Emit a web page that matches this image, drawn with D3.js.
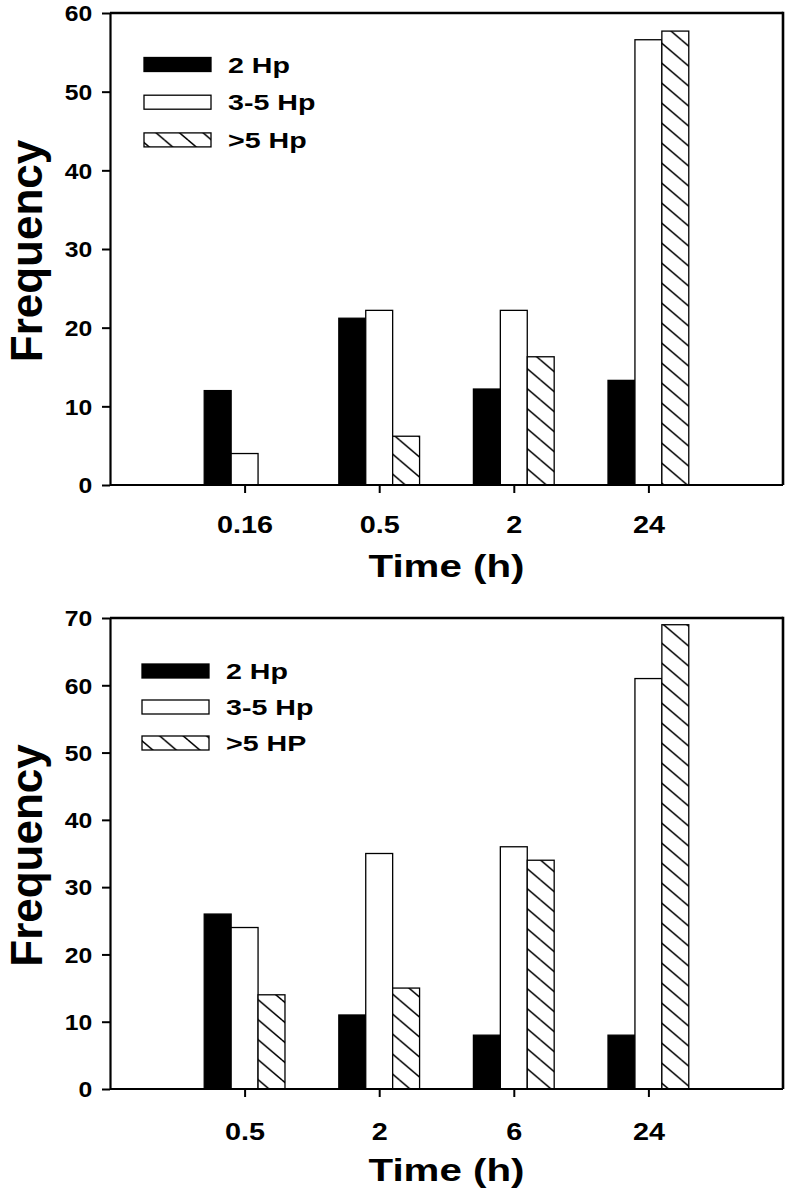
<!DOCTYPE html>
<html><head><meta charset="utf-8">
<script src="https://cdn.jsdelivr.net/npm/d3@7"></script>
<style>body{margin:0;background:#fff}svg text{font-family:"Liberation Sans",Arial,Helvetica,sans-serif;font-weight:bold;fill:#000}</style>
</head><body><svg id="c" width="792" height="1200"></svg>
<script>
// ---- data ----
const topTimes = ["0.16", "0.5", "2", "24"];
const top2Hp = [12, 21.2, 12.2, 13.3];
const top35Hp = [4, 22.2, 22.2, 56.6];
const topGt5Hp = [0, 6.2, 16.3, 57.7];
const topLegend = ["2 Hp", "3-5 Hp", ">5 Hp"];
const topYTicks = [0, 10, 20, 30, 40, 50, 60];

const bottomTimes = ["0.5", "2", "6", "24"];
const bottom2Hp = [26, 11, 8, 8];
const bottom35Hp = [24, 35, 36, 61];
const bottomGt5Hp = [14, 15, 34, 69];
const bottomLegend = ["2 Hp", "3-5 Hp", ">5 HP"];
const bottomYTicks = [0, 10, 20, 30, 40, 50, 60, 70];

const yLabel = "Frequency";
const xLabel = "Time (h)";

// ---- drawing ----
const svg = d3.select("#c");
const defs = svg.append("defs");
const PW = 23.5, PH = 20;
const pat = defs.append("pattern").attr("id", "hatch").attr("patternUnits", "userSpaceOnUse")
  .attr("width", PW).attr("height", PH);
pat.append("rect").attr("width", PW).attr("height", PH).attr("fill", "#fff");
[[0, 0, PW, PH], [-PW, 0, 0, PH], [PW, 0, 2 * PW, PH], [0, -PH, PW, 0], [0, PH, PW, 2 * PH]].forEach(l => {
  pat.append("line").attr("x1", l[0]).attr("y1", l[1]).attr("x2", l[2]).attr("y2", l[3])
    .attr("stroke", "#000").attr("stroke-width", 1.5);
});
const fills = ["#000", "#fff", "url(#hatch)"];

function panel(cfg) {
  const { cats, series, legend, yTicks, left, right, top, bottom, legendX, legendY0, legendStep,
          tickBaseline, titleBaseline, freqX } = cfg;
  const g = svg.append("g");
  const x = d3.scalePoint().domain(cats).range([left, right]).padding(1);
  const y = d3.scaleLinear().domain([0, yTicks[yTicks.length - 1]]).range([bottom, top]);
  const bw = x.step() * 0.2;

  // frame top + right
  g.append("line").attr("x1", left).attr("x2", right).attr("y1", top).attr("y2", top)
    .attr("stroke", "#000").attr("stroke-width", 2.6);
  g.append("line").attr("x1", right).attr("x2", right).attr("y1", top - 1.3).attr("y2", bottom)
    .attr("stroke", "#000").attr("stroke-width", 2.6);

  // bars
  series.forEach((vals, k) => {
    g.append("g").selectAll("rect").data(vals.map((v, i) => ({ v, c: cats[i] })).filter(d => d.v > 0))
      .join("rect")
      .attr("x", d => x(d.c) + (k - 1.5) * bw)
      .attr("y", d => y(d.v))
      .attr("width", bw)
      .attr("height", d => y(0) - y(d.v))
      .attr("fill", fills[k])
      .attr("stroke", "#000").attr("stroke-width", 1.3);
  });

  // y axis
  const ya = g.append("g").attr("transform", `translate(${left},0)`)
    .call(d3.axisLeft(y).tickValues(yTicks).tickSize(8).tickSizeOuter(0).tickPadding(7.5).tickFormat(d3.format("d")));
  ya.select(".domain").attr("stroke-width", 2.2);
  ya.selectAll(".tick line").attr("stroke-width", 2);
  ya.selectAll(".tick text").attr("font-size", 21.5).attr("font-family", null)
    .attr("transform", "scale(1.15,1)").attr("dy", "0.36em");

  // x axis
  const xa = g.append("g").attr("transform", `translate(0,${bottom})`)
    .call(d3.axisBottom(x).tickSize(8).tickSizeOuter(0).tickPadding(0));
  xa.select(".domain").attr("stroke-width", 2.2).attr("d", `M${left},0H${right}`);
  xa.selectAll(".tick line").attr("stroke-width", 2);
  xa.selectAll(".tick text").attr("font-size", 24).attr("font-family", null)
    .attr("y", tickBaseline - bottom).attr("dy", 0).attr("transform", "scale(1.2,1)");

  // axis titles
  g.append("text").attr("text-anchor", "middle").attr("font-size", 32)
    .attr("transform", `translate(${(left + right) / 2},${titleBaseline}) scale(1.26,1)`).text(xLabel);
  g.append("text").attr("text-anchor", "middle").attr("font-size", 44)
    .attr("transform", `translate(${freqX},${(top + bottom) / 2 + 2}) rotate(-90)`).text(yLabel);

  // legend
  legend.forEach((name, k) => {
    const cy = legendY0 + k * legendStep;
    g.append("rect").attr("x", legendX).attr("y", cy - 7).attr("width", 67).attr("height", 14)
      .attr("fill", fills[k]).attr("stroke", "#000").attr("stroke-width", 1.3);
    g.append("text").attr("font-size", 22)
      .attr("transform", `translate(${legendX + 84},${cy + 8}) scale(1.3,1)`).text(name);
  });
}

panel({ cats: topTimes, series: [top2Hp, top35Hp, topGt5Hp], legend: topLegend, yTicks: topYTicks,
  left: 110, right: 783, top: 13, bottom: 485, legendX: 144, legendY0: 64.5, legendStep: 37.7,
  tickBaseline: 533, titleBaseline: 577, freqX: 42 });
panel({ cats: bottomTimes, series: [bottom2Hp, bottom35Hp, bottomGt5Hp], legend: bottomLegend, yTicks: bottomYTicks,
  left: 110, right: 783, top: 618, bottom: 1089, legendX: 142, legendY0: 671, legendStep: 36,
  tickBaseline: 1140, titleBaseline: 1181, freqX: 42 });
</script></body></html>
